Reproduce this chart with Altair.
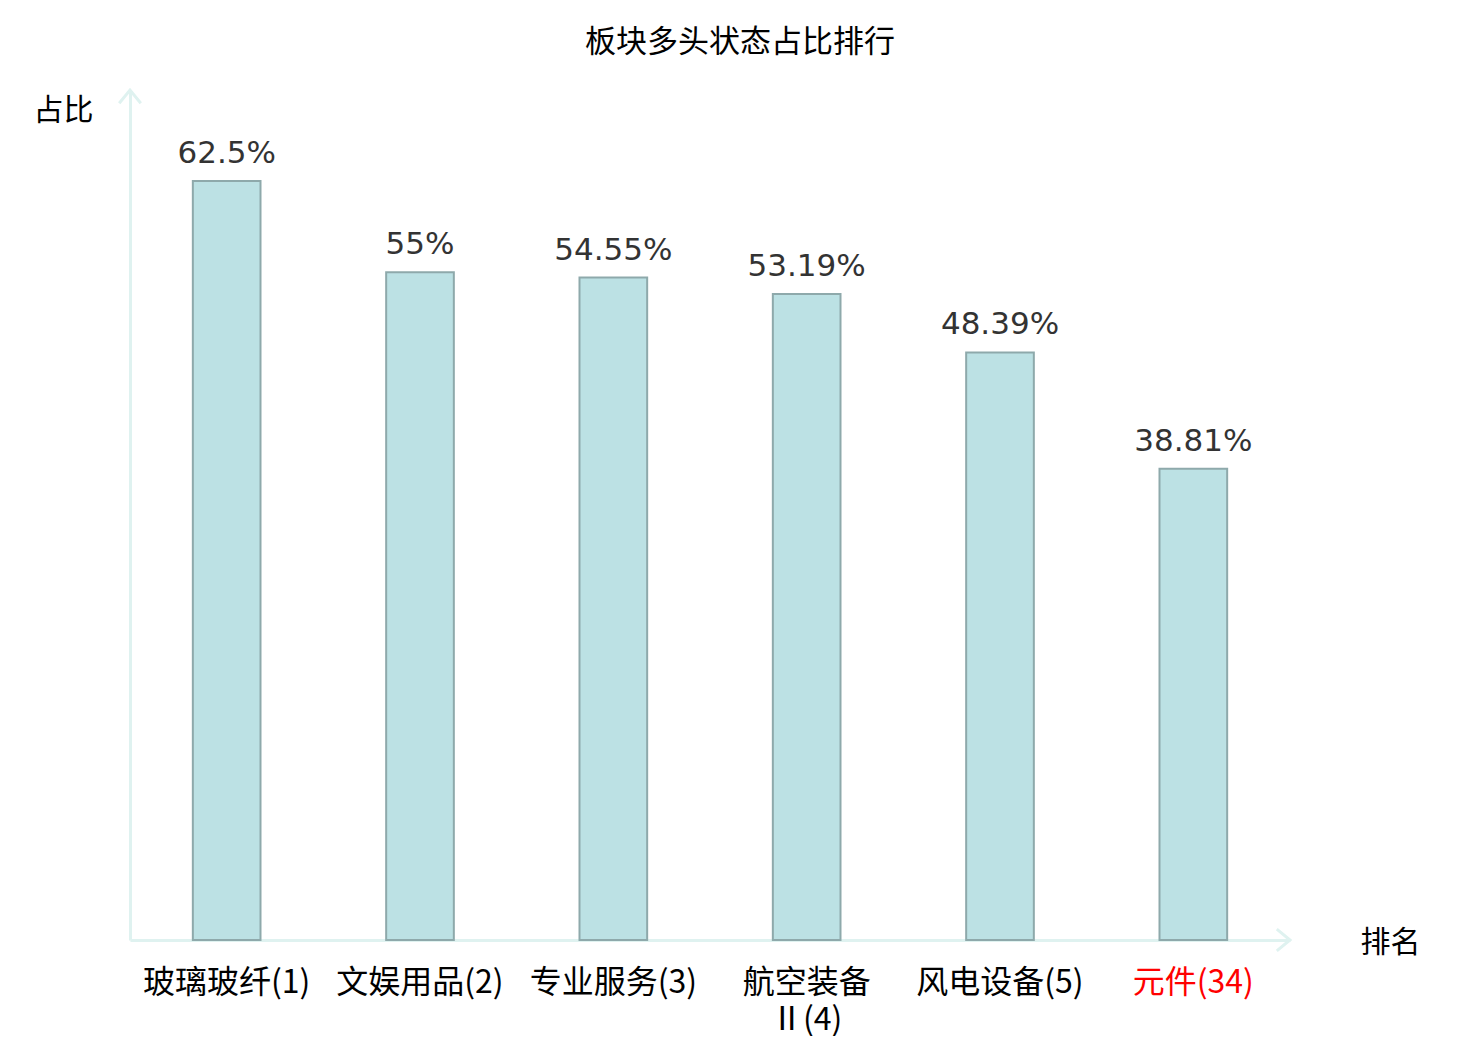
import altair as alt
import pandas as pd

categories = ["玻璃玻纤(1)", "文娱用品(2)", "专业服务(3)", "航空装备Ⅱ(4)", "风电设备(5)", "元件(34)"]
values = [62.5, 55, 54.55, 53.19, 48.39, 38.81]
highlight = "元件(34)"

df = pd.DataFrame({
    "cat": categories,
    "value": values,
    "label": [f"{v:g}%" for v in values],
})

AXIS_COLOR = "#dff2f0"
CJK = "Noto Sans CJK SC"

x_enc = alt.X(
    "cat:N", sort=None,
    scale=alt.Scale(paddingInner=0.65, paddingOuter=0.325),
    axis=alt.Axis(
        title="排名", titleFont=CJK, titleFontSize=30, titleFontWeight="normal",
        titleColor="#000000", titleAngle=0, titleX=1260, titleY=2,
        titleAlign="center", titleBaseline="middle", titleAnchor="start",
        labelFont=CJK, labelFontSize=32, labelAngle=0, labelBaseline="top",
        labelPadding=27, labelLineHeight=37, labelLimit=400,
        labelExpr="length(datum.label) > 7 ? [slice(datum.label,0,4), slice(datum.label,4)] : datum.label",
        labelColor={"condition": {"test": f"datum.value == '{highlight}'", "value": "#ff0000"}, "value": "#000000"},
        ticks=False, grid=False, domainColor=AXIS_COLOR, domainWidth=3,
    ),
)
y_enc = alt.Y(
    "value:Q", scale=alt.Scale(domain=[0, 70], nice=False),
    axis=alt.Axis(
        title="占比", titleFont=CJK, titleFontSize=30, titleFontWeight="normal",
        titleColor="#000000", titleAngle=0, titleX=-67, titleY=20,
        titleAlign="center", titleBaseline="middle", titleAnchor="start",
        labels=False, ticks=False, grid=False, domainColor=AXIS_COLOR, domainWidth=3,
    ),
)

base = alt.Chart(df)

bars = base.mark_bar(fill="#bce1e4", stroke="#8ea9ab", strokeWidth=2).encode(x=x_enc, y=y_enc)

texts = base.mark_text(font="DejaVu Sans", fontSize=31, color="#333333", baseline="alphabetic", dy=-18).encode(
    x=alt.X("cat:N", sort=None), y="value:Q", text="label:N"
)

arrow_df = pd.DataFrame({"value": [70]})
arrow_up = alt.Chart(arrow_df).mark_point(
    shape="M-0.9,1.1L0,0L0.9,1.1", filled=False, stroke=AXIS_COLOR, strokeWidth=3, size=576, opacity=1
).encode(x=alt.value(0), y=alt.Y("value:Q"))

arrow_right = alt.Chart(arrow_df).mark_point(
    shape="M-1.1,-0.9L0,0L-1.1,0.9", filled=False, stroke=AXIS_COLOR, strokeWidth=3, size=576, opacity=1
).encode(x=alt.value(1160), y=alt.value(850))

chart = alt.layer(bars, texts, arrow_up, arrow_right).properties(
    width=1160, height=850,
    title=alt.TitleParams(
        "板块多头状态占比排行", font=CJK, fontSize=31, fontWeight="normal", color="#000000",
        anchor="middle", frame="group", dx=30, offset=10, baseline="middle",
    ),
    autosize=alt.AutoSizeParams(type="none"),
    padding={"left": 122, "top": 82, "right": 170, "bottom": 96},
).configure_view(stroke=None)

chart.save("out.html", embed_options={"renderer": "svg", "actions": False})
